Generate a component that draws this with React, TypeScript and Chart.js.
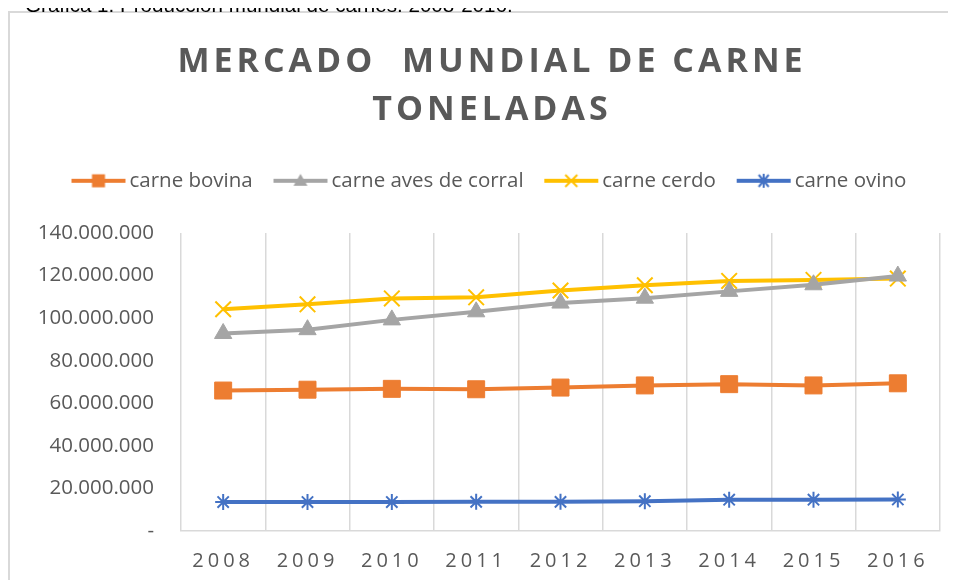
import React, { useEffect, useRef } from "react";
import { Chart, registerables } from "chart.js";

Chart.register(...registerables);

const caption = "Gráfica 1. Producción mundial de carnes. 2008-2016.";
const titleLines = ["MERCADO  MUNDIAL DE CARNE", "TONELADAS"];
const years = ["2008", "2009", "2010", "2011", "2012", "2013", "2014", "2015", "2016"];
const seriesNames = ["carne bovina", "carne aves de corral", "carne cerdo", "carne ovino"];
const bovina = [66000000, 66400000, 66800000, 66600000, 67400000, 68400000, 69000000, 68400000, 69400000];
const aves = [92800000, 94600000, 99200000, 103000000, 107100000, 109400000, 112600000, 115700000, 119800000];
const cerdo = [104200000, 106500000, 109300000, 109800000, 113000000, 115500000, 117500000, 118000000, 118600000];
const ovino = [13600000, 13600000, 13600000, 13700000, 13700000, 14000000, 14700000, 14700000, 14800000];
const yMax = 140000000;
const yStep = 20000000;

const COLORS = ["#ED7D31", "#A5A5A5", "#FFC000", "#4472C4"];
const TEXT = "#595959";
const GRID = "#d9d9d9";
const FONT = "'Open Sans', sans-serif";

function fmt(v: number): string {
  if (v === 0) return "-";
  return String(Math.round(v)).replace(/\B(?=(\d{3})+(?!\d))/g, ".");
}

function legendIcon(kind: string, color: string): HTMLCanvasElement {
  const c = document.createElement("canvas");
  c.width = 56;
  c.height = 20;
  const g = c.getContext("2d") as CanvasRenderingContext2D;
  const cx = 28, cy = 10;
  g.strokeStyle = color;
  g.fillStyle = color;
  g.lineWidth = 4;
  g.lineCap = "butt";
  g.beginPath();
  g.moveTo(1, cy);
  g.lineTo(55, cy);
  g.stroke();
  if (kind === "rect") {
    g.fillRect(cx - 6.5, cy - 6.5, 13, 13);
  } else if (kind === "triangle") {
    g.beginPath();
    g.moveTo(cx, cy - 7);
    g.lineTo(cx + 7, cy + 5);
    g.lineTo(cx - 7, cy + 5);
    g.closePath();
    g.fill();
  } else if (kind === "crossRot") {
    g.lineWidth = 2;
    g.beginPath();
    g.moveTo(cx - 6, cy - 6);
    g.lineTo(cx + 6, cy + 6);
    g.moveTo(cx + 6, cy - 6);
    g.lineTo(cx - 6, cy + 6);
    g.stroke();
  } else {
    g.lineWidth = 2;
    g.beginPath();
    g.moveTo(cx - 5, cy - 6);
    g.lineTo(cx + 5, cy + 6);
    g.moveTo(cx + 5, cy - 6);
    g.lineTo(cx - 5, cy + 6);
    g.moveTo(cx, cy - 7);
    g.lineTo(cx, cy + 7);
    g.stroke();
  }
  return c;
}

const spacingPlugin = {
  id: "letterSpacing",
  afterLayout(chart: any) {
    const tb = chart.titleBlock;
    if (tb && !tb.__patched) {
      const orig = tb.draw.bind(tb);
      tb.draw = (area: any) => {
        const c = chart.ctx;
        c.save();
        (c as any).letterSpacing = "4px";
        orig(area);
        c.restore();
      };
      tb.__patched = true;
    }
    const xs = chart.scales.x;
    if (xs && !xs.__patched) {
      const origL = xs.drawLabels.bind(xs);
      xs.drawLabels = (area: any) => {
        const c = chart.ctx;
        c.save();
        (c as any).letterSpacing = "4px";
        origL(area);
        c.restore();
      };
      xs.__patched = true;
    }
    const ys = chart.scales.y;
    if (ys && !ys.__patched) {
      ys._computeLabelArea = () => undefined;
      ys.__patched = true;
    }
  },
};

export default function App() {
  const ref = useRef<HTMLCanvasElement | null>(null);

  useEffect(() => {
    document.body.style.overflow = "hidden";
    if (!ref.current) return;
    const kinds = ["rect", "triangle", "crossRot", "star"];
    const radii = [12, 10, 11, 8];
    const values = [bovina, aves, cerdo, ovino];
    const icons = kinds.map((k, i) => legendIcon(k, COLORS[i]));
    const chart = new Chart(ref.current, {
      type: "line",
      data: {
        labels: years,
        datasets: seriesNames.map((name, i) => ({
          label: name,
          data: values[i],
          borderColor: COLORS[i],
          backgroundColor: COLORS[i],
          borderWidth: 4,
          pointStyle: kinds[i] as any,
          pointRadius: radii[i],
          pointBorderWidth: i >= 2 ? 2 : 1,
          pointBorderColor: COLORS[i],
          pointBackgroundColor: COLORS[i],
          tension: 0,
          fill: false,
        })),
      },
      options: {
        animation: false,
        responsive: false,
        devicePixelRatio: 1,
        layout: { padding: { top: 0, right: 34, bottom: 0, left: 34 } },
        plugins: {
          title: {
            display: true,
            text: titleLines,
            color: TEXT,
            font: { family: FONT, size: 34, weight: "bold", lineHeight: 1.42 },
            padding: { top: 25, bottom: 9 },
          },
          subtitle: {
            display: true,
            text: "",
            weight: 500,
            font: { size: 1, lineHeight: 1 },
            padding: { top: 31, bottom: 0 },
          },
          legend: {
            display: true,
            position: "top",
            labels: {
              usePointStyle: true,
              pointStyleWidth: 41.5,
              padding: 27,
              color: TEXT,
              font: { family: FONT, size: 20.5 },
              generateLabels: (ch: any) =>
                ch.data.datasets.map((ds: any, i: number) => ({
                  text: ds.label,
                  fillStyle: COLORS[i],
                  strokeStyle: COLORS[i],
                  lineWidth: 0,
                  pointStyle: icons[i],
                  hidden: false,
                  datasetIndex: i,
                  fontColor: TEXT,
                })),
            },
          },
          tooltip: { enabled: false },
        },
        scales: {
          x: {
            type: "category",
            offset: true,
            grid: { display: true, offset: true, color: GRID, lineWidth: 1.5, drawTicks: false },
            border: { display: true, color: GRID, width: 1.5 },
            ticks: { color: TEXT, font: { family: FONT, size: 20 }, padding: 18, maxRotation: 0 },
            afterFit: (s: any) => {
              s.height = 49;
            },
          },
          y: {
            min: 0,
            max: yMax,
            grid: { display: false, drawTicks: false },
            border: { display: false },
            ticks: {
              stepSize: yStep,
              color: TEXT,
              padding: 27,
              font: { family: FONT, size: 20.5 },
              callback: (v: any) => fmt(Number(v)),
            },
            afterFit: (s: any) => {
              s.width = 137;
            },
          },
        },
      },
      plugins: [spacingPlugin],
    });
    chart.draw();
    return () => chart.destroy();
  }, []);

  return (
    <div
      style={{
        position: "relative",
        marginTop: -8,
        marginLeft: -8,
        width: 956,
        height: 580,
      }}
    >
      <div
        style={{
          position: "absolute",
          left: 25,
          top: -5,
          zIndex: 2,
          fontFamily: "'Liberation Sans', Arial, sans-serif",
          fontSize: 20.6,
          lineHeight: "20px",
          color: "#000",
          whiteSpace: "nowrap",
        }}
      >
        {caption}
      </div>
      <div
        style={{
          position: "absolute",
          left: 8,
          top: 11,
          width: 946,
          height: 569,
          overflow: "hidden",
          borderLeft: "2px solid #d9d9d9",
          borderTop: "2px solid #d9d9d9",
          background: "#fff",
        }}
      >
        <canvas ref={ref} width={964} height={567} style={{ display: "block" }} />
      </div>
    </div>
  );
}
